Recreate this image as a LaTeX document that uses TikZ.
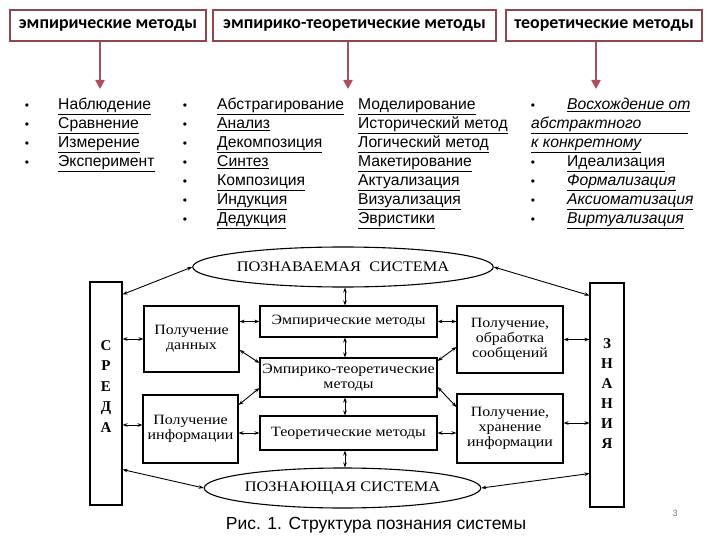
\documentclass[tikz,border=0pt]{standalone}
\usepackage{fontspec}
\setmainfont{Liberation Serif}
\newfontfamily\arialf{Liberation Sans}
\newfontfamily\calibf{Carlito}
\newfontfamily\dserif[FakeStretch=1.12]{Liberation Serif}
\usetikzlibrary{arrows.meta,shapes.geometric}
\definecolor{hdrc}{RGB}{140,72,78}
\definecolor{arrc}{RGB}{172,78,92}
\definecolor{pgc}{RGB}{120,120,120}
\tikzset{
  hdr/.style={draw=hdrc, line width=2pt, fill=white, inner sep=0pt, minimum height=31pt,
    font=\calibf\bfseries\fontsize{17.9}{20}\selectfont},
  harr/.style={draw=arrc, line width=2.4pt, -{Triangle[length=9pt,width=9pt]}},
  li/.style={anchor=base west, inner sep=0pt, font=\arialf\fontsize{15.7}{18}\selectfont},
  bul/.style={anchor=base, inner sep=0pt, font=\arialf\fontsize{12}{14}\selectfont},
  box/.style={draw, line width=1.1pt, inner sep=0pt, align=center,
    font=\dserif\fontsize{14.2}{15}\selectfont},
  oval/.style={ellipse, draw, line width=1.1pt, inner sep=0pt,
    font=\dserif\fontsize{14.6}{15}\selectfont},
  conn/.style={line width=0.9pt, {Stealth[length=5pt,width=3.6pt]}-{Stealth[length=5pt,width=3.6pt]}},
}
\newcommand{\ul}[1]{\underline{#1}}
\begin{document}
\begin{tikzpicture}[x=1pt,y=-1pt]
\useasboundingbox (0,0) rectangle (720,540);
% headers
\node[hdr, minimum width=196pt] (h1) at (108,25.5) {эмпирические методы};
\node[hdr, minimum width=283pt] (h2) at (354.5,25.5) {эмпирико-теоретические методы};
\node[hdr, minimum width=196pt] (h3) at (604,25.5) {теоретические методы};
\coordinate (a1) at (100,89);
\coordinate (a2) at (348,89);
\coordinate (a3) at (596,89);
\draw[harr] (h1.south -| a1) -- (a1);
\draw[harr] (h2.south -| a2) -- (a2);
\draw[harr] (h3.south -| a3) -- (a3);
% column 1
\foreach \i/\t in {0/Наблюдение,1/Сравнение,2/Измерение,3/Эксперимент}{
  \node[bul] (b1\i) at (27,110+19*\i) {•};
  \node[li] (l1\i) at (58,110+19*\i) {\ul{\t}};
}
% column 2
\foreach \i/\t in {0/Абстрагирование,1/Анализ,2/Декомпозиция,3/Синтез,4/Композиция,5/Индукция,6/Дедукция}{
  \node[bul] (b2\i) at (185,110+18.9*\i) {•};
  \node[li] (l2\i) at (217,110+18.9*\i) {\ul{\t}};
}
% column 3
\foreach \i/\t in {0/Моделирование,1/Исторический метод,2/Логический метод,3/Макетирование,4/Актуализация,5/Визуализация,6/Эвристики}{
  \node[li] (l3\i) at (358,110+18.9*\i) {\ul{\t}};
}
% column 4
\node[bul] (b40) at (533,110) {•};
\node[li] (l40) at (567,110) {\ul{\itshape Восхождение от}};
\node[li] (l41) at (531,128.9) {\ul{\itshape абстрактного\hspace{47pt}}};
\node[li] (l42) at (531,147.8) {\ul{\itshape к конкретному}};
\node[bul] (b43) at (533,166.7) {•};
\node[li] (l43) at (567,166.7) {\ul{Идеализация}};
\node[bul] (b44) at (533,185.6) {•};
\node[li] (l44) at (567,185.6) {\ul{\itshape Формализация}};
\node[bul] (b45) at (533,204.5) {•};
\node[li] (l45) at (567,204.5) {\ul{\itshape Аксиоматизация}};
\node[bul] (b46) at (533,223.4) {•};
\node[li] (l46) at (567,223.4) {\ul{\itshape Виртуализация}};
% lower diagram
\node[box, minimum width=32pt, minimum height=223pt] (env) at (106,393.5) {};
\node[box, minimum width=34pt, minimum height=224pt] (know) at (607,395) {};
\foreach \i/\t in {0/С,1/Р,2/Е,3/Д,4/А}{
  \node[inner sep=0pt, anchor=base, font=\fontsize{15}{15}\selectfont\bfseries] (s\i) at (106,350+20.5*\i) {\t};
}
\foreach \i/\t in {0/З,1/Н,2/А,3/Н,4/И,5/Я}{
  \node[inner sep=0pt, anchor=base, font=\fontsize{15}{15}\selectfont\bfseries] (z\i) at (607,348+20*\i) {\t};
}
\node[oval, minimum width=250pt, minimum height=40pt] (topE) at (343,267) {ПОЗНАВАЕМАЯ\ \ СИСТЕМА};
\node[oval, minimum width=249pt, minimum height=40pt] (botE) at (342.5,488) {ПОЗНАЮЩАЯ СИСТЕМА};
\node[box, minimum width=95pt, minimum height=66pt] (pd) at (191.5,339) {Получение\\данных};
\node[box, minimum width=95pt, minimum height=68pt] (pi) at (190.5,429) {Получение\\информации};
\node[box, minimum width=177pt, minimum height=31pt] (em) at (348.5,321.5) {Эмпирические методы};
\node[box, minimum width=177pt, minimum height=39pt] (et) at (348.5,377.5) {Эмпирико-теоретические\\методы};
\node[box, minimum width=177pt, minimum height=34pt] (th) at (348.5,433) {Теоретические методы};
\node[box, minimum width=106pt, minimum height=67pt] (ps) at (510,339.5) {Получение,\\обработка\\сообщений};
\node[box, minimum width=106pt, minimum height=69pt] (ph) at (510,428.5) {Получение,\\хранение\\информации};
\coordinate (v) at (345,0);
% connectors
\draw[conn] ([yshift=-13pt]env.north east) -- (topE.west);
\draw[conn] (topE.east) -- ([yshift=-13pt]know.north west);
\draw[conn] (topE.south -| v) -- (em.north -| v);
\draw[conn] (em.south -| v) -- (et.north -| v);
\draw[conn] (et.south -| v) -- (th.north -| v);
\draw[conn] (th.south -| v) -- (botE.north -| v);
\draw[conn] (pd.east |- em.west) -- (em.west);
\draw[conn] (env.east |- pd.west) -- (pd.west);
\draw[conn] ([yshift=-11pt]pd.east) -- ([yshift=14.5pt]et.west);
\draw[conn] ([yshift=24pt]pi.east) -- ([yshift=-10.5pt]et.west);
\draw[conn] (pi.east |- th.west) -- (th.west);
\coordinate (pw) at ([yshift=4pt]pi.west);
\draw[conn] (env.east |- pw) -- (pw);
\draw[conn] (em.east) -- (ps.west |- em.east);
\draw[conn] (ps.east) -- (know.west |- ps.east);
\draw[conn] ([yshift=16.5pt]et.east) -- ([yshift=-7.5pt]ps.west);
\draw[conn] ([yshift=-9.5pt]et.east) -- ([yshift=21.5pt]ph.west);
\draw[conn] (th.east) -- (ph.west |- th.east);
\coordinate (pe) at ([yshift=5.5pt]ph.east);
\draw[conn] (pe) -- (know.west |- pe);
\draw[conn] ([yshift=36pt]env.south east) -- (botE.west);
\draw[conn] (botE.east) -- ([yshift=34pt]know.south west);
% caption
\node[inner sep=0pt, font=\arialf\fontsize{17.5}{20}\selectfont] (cap) at (376,525) {Рис. 1. Структура познания системы};
\node[inner sep=0pt, text=pgc, font=\arialf\fontsize{9}{10}\selectfont] (pg) at (675,513) {3};
\end{tikzpicture}
\end{document}
